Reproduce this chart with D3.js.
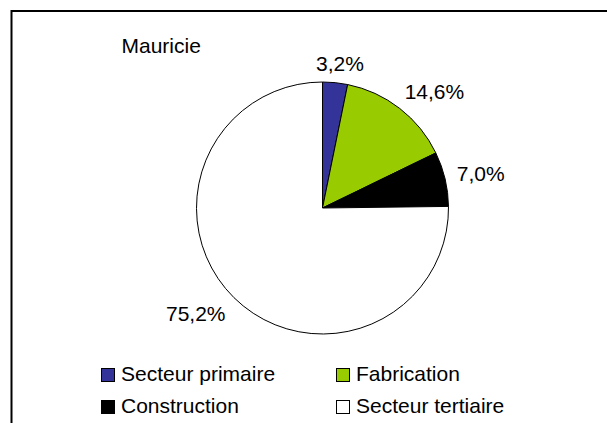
<!DOCTYPE html>
<html>
<head>
<meta charset="utf-8">
<script src="https://cdn.jsdelivr.net/npm/d3@7"></script>
<style>
  body { margin: 0; background: #fff; }
  svg { display: block; font-family: Arial, "Liberation Sans", sans-serif; }
</style>
</head>
<body>
<svg id="chart"></svg>
<script>
// Mauricie - emploi par secteur
var title = "Mauricie"
var categories = ["Secteur primaire", "Fabrication", "Construction", "Secteur tertiaire"]
var values = [3.2, 14.6, 7.0, 75.2]
var colors = ["#333399", "#99cc00", "#000000", "#ffffff"]

var width = 607, height = 423
var cx = 322.5, cy = 208, radius = 126
var fontSize = 21

var svg = d3.select("#chart")
  .attr("width", width)
  .attr("height", height)

// frame (right and bottom edges fall outside the picture)
svg.append("rect")
  .attr("x", 11.5).attr("y", 11)
  .attr("width", 620).attr("height", 440)
  .attr("fill", "#fff")
  .attr("stroke", "#000")
  .attr("stroke-width", 2)

svg.append("text")
  .attr("x", 121.5).attr("y", 52.5)
  .attr("font-size", fontSize)
  .text(title)

var data = categories.map((c, i) => ({name: c, value: values[i], color: colors[i]}))

var pie = d3.pie().sort(null).value(d => d.value)
var arc = d3.arc().innerRadius(0).outerRadius(radius)
var arcs = pie(data)

var g = svg.append("g").attr("transform", `translate(${cx},${cy})`)

g.selectAll("path")
  .data(arcs)
  .join("path")
    .attr("d", arc)
    .attr("fill", d => d.data.color)
    .attr("stroke", "#000")
    .attr("stroke-width", 1)
    .attr("stroke-linejoin", "round")

// labels: anchor just outside the rim, box pushed outward along the mid angle
var fmt = v => d3.format(".1f")(v).replace(".", ",") + "%"
var gap = 12
var clamp = v => Math.max(-1, Math.min(1, v * 1.5))
var labels = g.append("g")
  .attr("font-size", fontSize)
  .attr("text-anchor", "middle")
arcs.forEach(d => {
  var a = (d.startAngle + d.endAngle) / 2
  var t = labels.append("text").text(fmt(d.data.value))
  var w = t.node().getComputedTextLength()
  var h = fontSize * 0.72
  var ax = Math.sin(a) * (radius + gap), ay = -Math.cos(a) * (radius + gap)
  var x = ax + clamp(Math.sin(a)) * w / 2
  var y = ay + clamp(-Math.cos(a)) * h / 2
  t.attr("x", x).attr("y", y + h / 2)
})

// legend, two columns
var legX = [101, 336], legY = [368, 400], box = 13
var leg = svg.append("g").attr("font-size", fontSize)
data.forEach((d, i) => {
  var col = i % 2, row = Math.floor(i / 2)
  leg.append("rect")
    .attr("x", legX[col] + 0.5).attr("y", legY[row] + 0.5)
    .attr("width", box).attr("height", box)
    .attr("fill", d.color)
    .attr("stroke", "#000")
    .attr("stroke-width", 1)
  leg.append("text")
    .attr("x", legX[col] + box + 7)
    .attr("y", legY[row] + 13)
    .text(d.name)
})
</script>
</body>
</html>
